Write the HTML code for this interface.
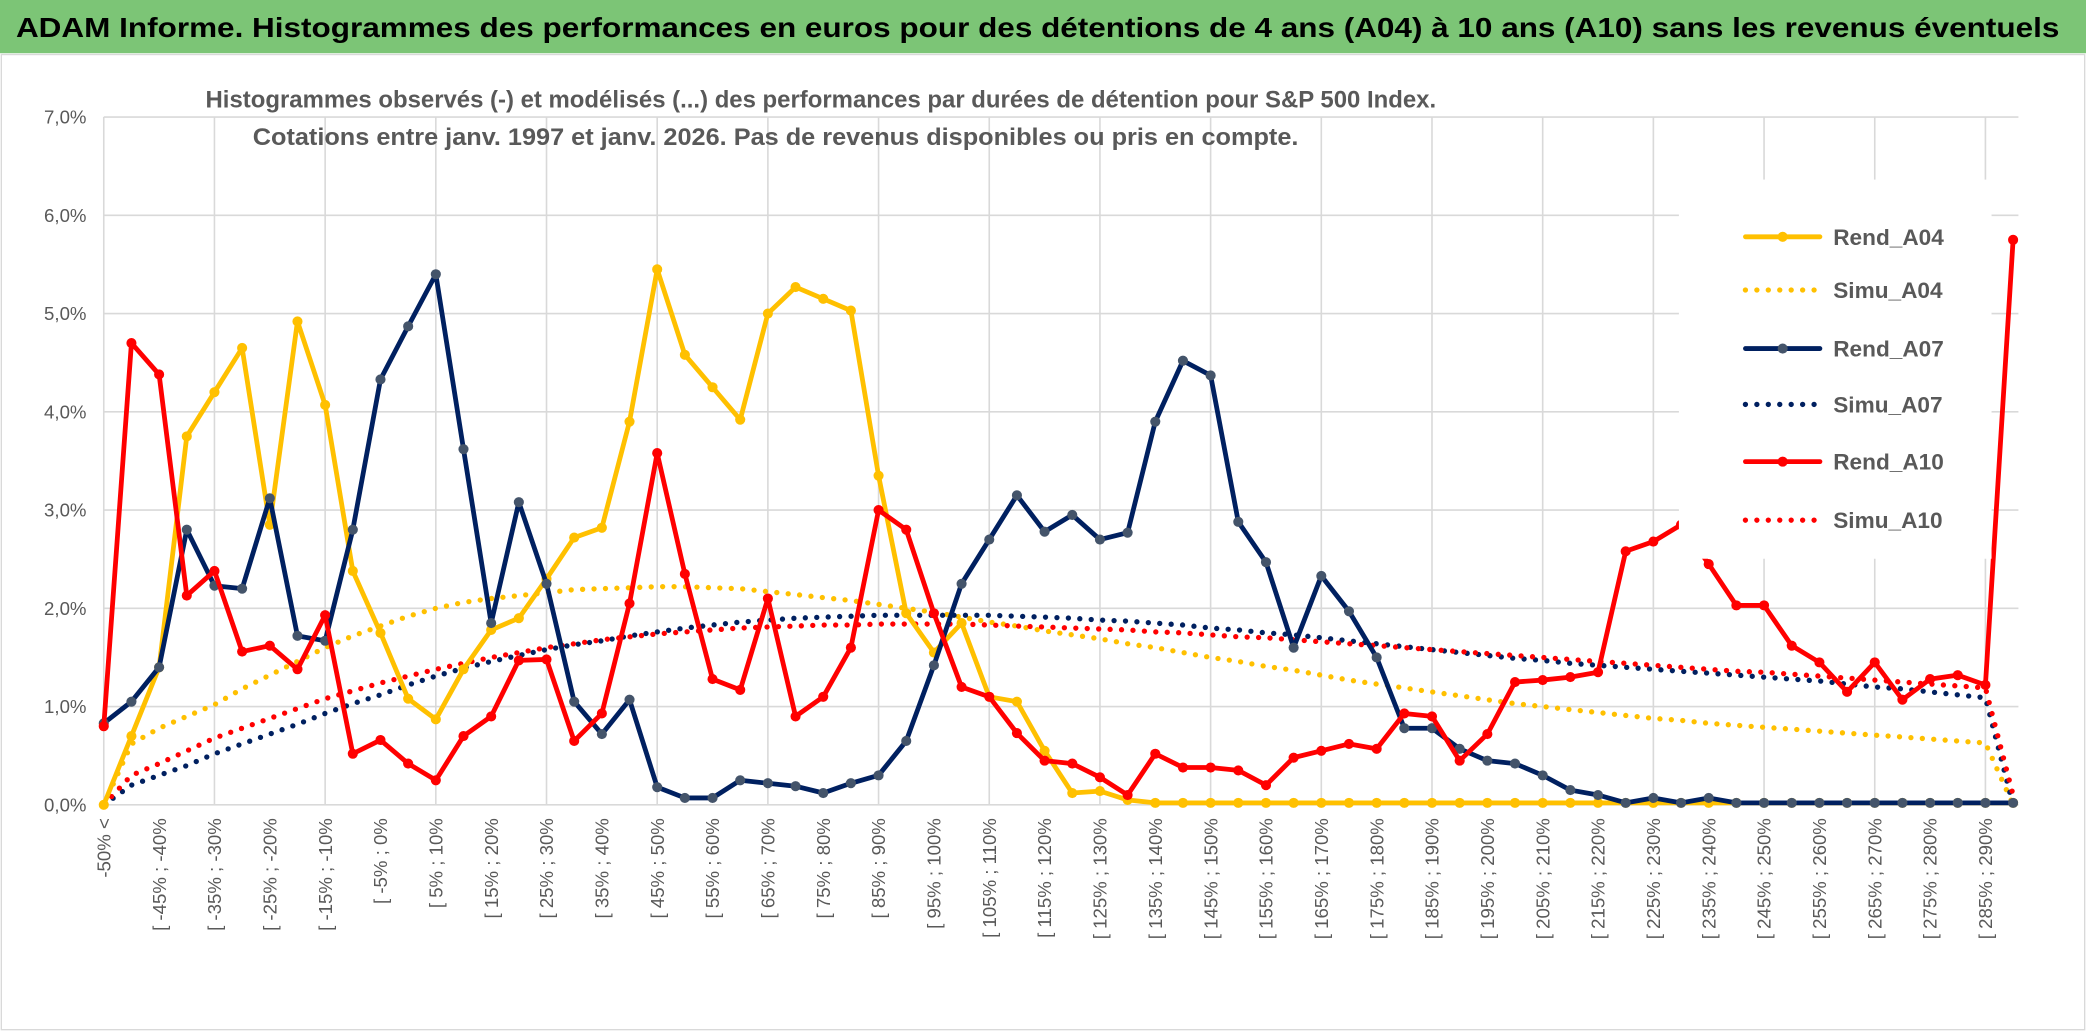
<!DOCTYPE html>
<html><head><meta charset="utf-8"><style>
html,body{margin:0;padding:0;background:#fff;}
svg{display:block;font-family:"Liberation Sans",sans-serif;}
</style></head><body>
<svg id="chart" width="2086" height="1031" viewBox="0 0 1568 775" preserveAspectRatio="none" xmlns="http://www.w3.org/2000/svg">
<rect x="0" y="0" width="1568" height="775" fill="#fff"/>
<rect x="0" y="0" width="1568" height="40" fill="#7cc576"/>
<text x="12" y="28" font-size="21" font-weight="bold" fill="#000" textLength="1536" lengthAdjust="spacingAndGlyphs">ADAM Informe. Histogrammes des performances en euros pour des détentions de 4 ans (A04) à 10 ans (A10) sans les revenus éventuels</text>
<rect x="1" y="41" width="1566" height="733" fill="none" stroke="#d9d9d9" stroke-width="1"/>
<g id="grid"></g>
<text x="617" y="81" font-size="18" font-weight="bold" fill="#595959" text-anchor="middle" textLength="925" lengthAdjust="spacingAndGlyphs">Histogrammes observés (-) et modélisés (...) des performances par durées de détention pour S&amp;P 500 Index.</text>
<text x="583" y="109" font-size="18" font-weight="bold" fill="#595959" text-anchor="middle" textLength="786" lengthAdjust="spacingAndGlyphs">Cotations entre janv. 1997 et janv. 2026. Pas de revenus disponibles ou pris en compte.</text>
<g id="yaxis"></g>
<g id="xaxis"></g>
<g id="legendbg"></g>
<g id="series"></g>
<g id="legend"></g>
</svg>
<script>
const yTicks = [0,1,2,3,4,5,6,7];
const yTickLabels = ["0,0%","1,0%","2,0%","3,0%","4,0%","5,0%","6,0%","7,0%"];
const rendA04 = [0,0.7,1.4,3.75,4.2,4.65,2.85,4.92,4.07,2.38,1.75,1.08,0.87,1.38,1.78,1.9,2.3,2.72,2.82,3.9,5.45,4.58,4.25,3.92,5.0,5.27,5.15,5.03,3.35,1.95,1.55,1.85,1.1,1.05,0.55,0.12,0.14,0.05,0.02,0.02,0.02,0.02,0.02,0.02,0.02,0.02,0.02,0.02,0.02,0.02,0.02,0.02,0.02,0.02,0.02,0.02,0.02,0.02,0.02,0.02,0.02,0.02,0.02,0.02,0.02,0.02,0.02,0.02,0.02,0.02];
const simuA04 = [0,0.62,0.78,0.9,1.02,1.18,1.32,1.46,1.6,1.72,1.82,1.92,2.0,2.06,2.1,2.13,2.16,2.19,2.2,2.21,2.22,2.22,2.21,2.2,2.17,2.14,2.11,2.08,2.04,2.0,1.96,1.91,1.86,1.82,1.77,1.73,1.69,1.64,1.6,1.55,1.5,1.46,1.41,1.37,1.32,1.27,1.23,1.19,1.15,1.11,1.07,1.03,1.0,0.97,0.94,0.91,0.88,0.86,0.83,0.81,0.79,0.77,0.75,0.73,0.71,0.69,0.67,0.65,0.63,0.0];
const rendA07 = [0.83,1.05,1.4,2.8,2.23,2.2,3.12,1.72,1.67,2.8,4.33,4.87,5.4,3.62,1.85,3.08,2.25,1.05,0.72,1.07,0.18,0.07,0.07,0.25,0.22,0.19,0.12,0.22,0.3,0.65,1.42,2.25,2.7,3.15,2.78,2.95,2.7,2.77,3.9,4.52,4.37,2.88,2.47,1.6,2.33,1.97,1.5,0.78,0.78,0.57,0.45,0.42,0.3,0.15,0.1,0.02,0.07,0.02,0.07,0.02,0.02,0.02,0.02,0.02,0.02,0.02,0.02,0.02,0.02,0.02];
const simuA07 = [0,0.2,0.3,0.4,0.52,0.62,0.72,0.82,0.93,1.03,1.12,1.22,1.31,1.39,1.46,1.52,1.58,1.63,1.67,1.72,1.76,1.8,1.83,1.86,1.88,1.9,1.91,1.92,1.93,1.93,1.93,1.93,1.93,1.92,1.91,1.9,1.88,1.87,1.85,1.83,1.8,1.78,1.75,1.73,1.7,1.67,1.64,1.61,1.58,1.55,1.52,1.49,1.47,1.44,1.42,1.4,1.38,1.36,1.34,1.32,1.3,1.28,1.26,1.23,1.2,1.18,1.15,1.12,1.09,0.0];
const rendA10 = [0.8,4.7,4.38,2.13,2.38,1.56,1.62,1.38,1.93,0.52,0.66,0.42,0.25,0.7,0.9,1.47,1.48,0.65,0.93,2.05,3.58,2.35,1.28,1.17,2.1,0.9,1.1,1.6,3.0,2.8,1.95,1.2,1.1,0.73,0.45,0.42,0.28,0.1,0.52,0.38,0.38,0.35,0.2,0.48,0.55,0.62,0.57,0.93,0.9,0.45,0.72,1.25,1.27,1.3,1.35,2.58,2.68,2.85,2.45,2.03,2.03,1.62,1.45,1.15,1.45,1.07,1.28,1.32,1.22,5.75];
const simuA10 = [0,0.3,0.42,0.55,0.68,0.78,0.88,0.98,1.08,1.16,1.24,1.31,1.38,1.44,1.5,1.55,1.6,1.64,1.68,1.71,1.74,1.76,1.78,1.8,1.81,1.82,1.83,1.83,1.84,1.84,1.84,1.84,1.83,1.82,1.81,1.8,1.79,1.78,1.76,1.75,1.73,1.71,1.7,1.68,1.66,1.64,1.62,1.6,1.58,1.56,1.54,1.52,1.5,1.48,1.46,1.44,1.42,1.4,1.38,1.36,1.35,1.33,1.31,1.29,1.27,1.25,1.23,1.21,1.19,0.1];
const seriesNames = ["Rend_A04","Simu_A04","Rend_A07","Simu_A07","Rend_A10","Simu_A10"];
const categories = [];
for (let i = 0; i < 70; i++) {
  if (i === 0) categories.push("-50% <");
  else { const lo = -50 + 5*(i-1); categories.push("[ " + lo + "% ; " + (lo+5) + "%"); }
}

const NS = "http://www.w3.org/2000/svg";
const X0 = 78, DX = 20.8, Y0 = 605, PY = 73.86;
const xPos = i => X0 + i*DX;
const yPos = v => Y0 - v*PY;
function mk(tag, attrs, parent){ const e = document.createElementNS(NS, tag); for (const k in attrs) e.setAttribute(k, attrs[k]); parent.appendChild(e); return e; }

const grid = document.getElementById('grid');
yTicks.forEach(t => {
  const l = mk('line', {x1: X0, x2: xPos(categories.length-1)+4, y1: yPos(t), y2: yPos(t), stroke:'#d9d9d9', 'stroke-width':1.2}, grid);
  
  
});
for (let i = 0; i < categories.length; i += 4) {
  const l = mk('line', {x1: xPos(i), x2: xPos(i), y1: yPos(7), y2: Y0, stroke:'#d9d9d9', 'stroke-width':1.2}, grid);
  
  
}
const yaxis = document.getElementById('yaxis');
yTicks.forEach((t, k) => {
  const tx = mk('text', {x: 65, y: yPos(t)+5, 'font-size':14, fill:'#595959', 'text-anchor':'end'}, yaxis);
  tx.textContent = yTickLabels[k];
  
  
});
const xaxis = document.getElementById('xaxis');
categories.forEach((c, i) => {
  if (i % 2) return;
  const x = xPos(i) + 5, y = 615;
  const tx = mk('text', {x: x, y: y, 'font-size':14, fill:'#595959', 'text-anchor':'end', transform:'rotate(-90 '+x+' '+y+')'}, xaxis);
  tx.textContent = c;
  
  
});

const sg = document.getElementById('series');
function drawSeries(vals, color, dotted, marker, name){
  const g = mk('g', {}, sg);
  
  
  const pts = vals.map((v,i) => xPos(i).toFixed(1)+','+yPos(v).toFixed(1)).join(' ');
  const pl = mk('polyline', {points: pts, fill:'none', stroke: color, 'stroke-width': dotted?4:3.6, 'stroke-linejoin':'round', 'stroke-linecap':'round'}, g);
  if (dotted) pl.setAttribute('stroke-dasharray', '0 8.6');
  
  
  if (marker) vals.forEach((v,i) => {
    const c = mk('circle', {cx: xPos(i), cy: yPos(v), r: 3.8, fill: marker}, g);
    
    
  });
}
drawSeries(simuA04, '#ffc000', true, null, 'simu-a04');
drawSeries(simuA07, '#002060', true, null, 'simu-a07');
drawSeries(simuA10, '#ff0000', true, null, 'simu-a10');
drawSeries(rendA04, '#ffc000', false, '#ffc000', 'rend-a04');
drawSeries(rendA07, '#002060', false, '#44546a', 'rend-a07');
drawSeries(rendA10, '#ff0000', false, '#ff0000', 'rend-a10');

const lg = document.getElementById('legend');
const bg = mk('rect', {x:1262, y:135, width:235, height:285, fill:'#fff'}, lg);


const legColors = ['#ffc000','#ffc000','#002060','#002060','#ff0000','#ff0000'];
const legY = [178,218,262,304,347,391];
seriesNames.forEach((n, k) => {
  const g = mk('g', {}, lg);
  
  
  const dotted = k % 2 === 1;
  const ln = mk('line', {x1:1312, x2:1368, y1:legY[k], y2:legY[k], stroke:legColors[k], 'stroke-width': dotted?4:3.6, 'stroke-linecap':'round'}, g);
  if (dotted) ln.setAttribute('stroke-dasharray', '0 8.6');
  
  
  if (!dotted) {
    const c = mk('circle', {cx:1340, cy:legY[k], r:3.8, fill: k===2?'#44546a':legColors[k]}, g);
    
    
  }
  const t = mk('text', {x:1378, y:legY[k]+6, 'font-size':17, 'font-weight':'bold', fill:'#595959'}, g);
  t.textContent = n;
  
  
});
</script>
</body></html>
